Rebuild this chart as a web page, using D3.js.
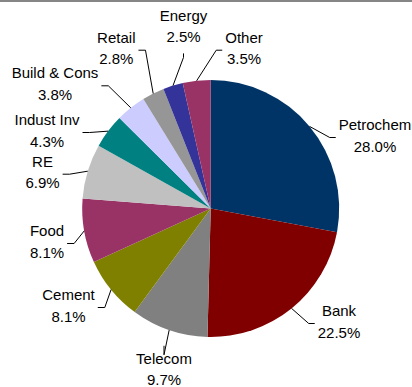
<!DOCTYPE html>
<html><head><meta charset="utf-8">
<script src="https://cdn.jsdelivr.net/npm/d3@7"></script>
<style>html,body{margin:0;padding:0;background:#fff;overflow:hidden}</style>
</head><body><svg id="chart" width="412" height="387"></svg>
<script>
// Sector weights (%)
const sectors = ["Petrochem","Bank","Telecom","Cement","Food","RE","Indust Inv","Build & Cons","Retail","Energy","Other"];
const shares = [28.0, 22.5, 9.7, 8.1, 8.1, 6.9, 4.3, 3.8, 2.8, 2.5, 3.5];
const sectorColors = ["#003366","#800000","#808080","#808000","#993366","#c0c0c0","#008080","#ccccff","#969696","#333399","#993366"];

// Label layout: block centre x, first baseline, side where the leader joins
const labelAnchors = [
  [375, 130, "left"], [339, 316, "left"], [164, 363.5, "top"], [68.5, 300, "right"],
  [47, 236, "right"], [42.5, 166.7, "right"], [47, 125, "right"], [55, 78.3, "right"],
  [116.3, 42.7, "right"], [183.5, 20.7, "bottom"], [244, 42.7, "left"]
];

const W = 412, H = 387;
const cx = 210.7, cy = 208.5, R = 128.5;
const lineGap = 21.7, capH = 10.7;

const svg = d3.select("#chart");

// thin header rule
svg.append("rect").attr("x", 0).attr("y", 0).attr("width", W).attr("height", 2).attr("fill", "#868686");

const pie = d3.pie().sort(null).value(d => d)(shares);
const arc = d3.arc().innerRadius(0).outerRadius(R);

const g = svg.append("g").attr("transform", `translate(${cx},${cy})`);
g.selectAll("path.slice").data(pie).join("path")
  .attr("class", "slice")
  .attr("d", arc)
  .attr("fill", (d, i) => sectorColors[i]);

const fmt = d3.format(".1f");
const labels = svg.append("g")
  .attr("font-family", "'Liberation Sans', Arial, sans-serif")
  .attr("font-size", "15px")
  .attr("fill", "#000")
  .attr("text-anchor", "middle");

pie.forEach((d, i) => {
  const [lx, b1, side] = labelAnchors[i];
  const b2 = b1 + lineGap;
  const t1 = labels.append("text").attr("x", lx).attr("y", b1).text(sectors[i]);
  const t2 = labels.append("text").attr("x", lx).attr("y", b2).text(fmt(shares[i]) + "%");
  const w = Math.max(t1.node().getComputedTextLength(), t2.node().getComputedTextLength());
  const mid = (b1 - capH + b2) / 2 + 2;

  // point on the rim at the slice's mid angle
  const a = (d.startAngle + d.endAngle) / 2;
  const p0 = [cx + R * Math.sin(a), cy - R * Math.cos(a)];

  let end, elbow;
  if (side === "left") { end = [lx - w / 2 - 3, mid]; elbow = [end[0] - 6, mid]; }
  else if (side === "right") { end = [lx + w / 2 + 3, mid]; elbow = [end[0] + 7, mid]; }
  else if (side === "top") { end = [lx, b1 - capH - 7]; elbow = [lx, end[1] + 9]; }
  else { end = [lx, b2 + 11]; elbow = [lx, end[1] + 4]; }

  svg.append("path")
    .attr("d", d3.line()([end, elbow, p0]))
    .attr("fill", "none")
    .attr("stroke", "#000")
    .attr("stroke-width", 1);
});
</script>
</body></html>
